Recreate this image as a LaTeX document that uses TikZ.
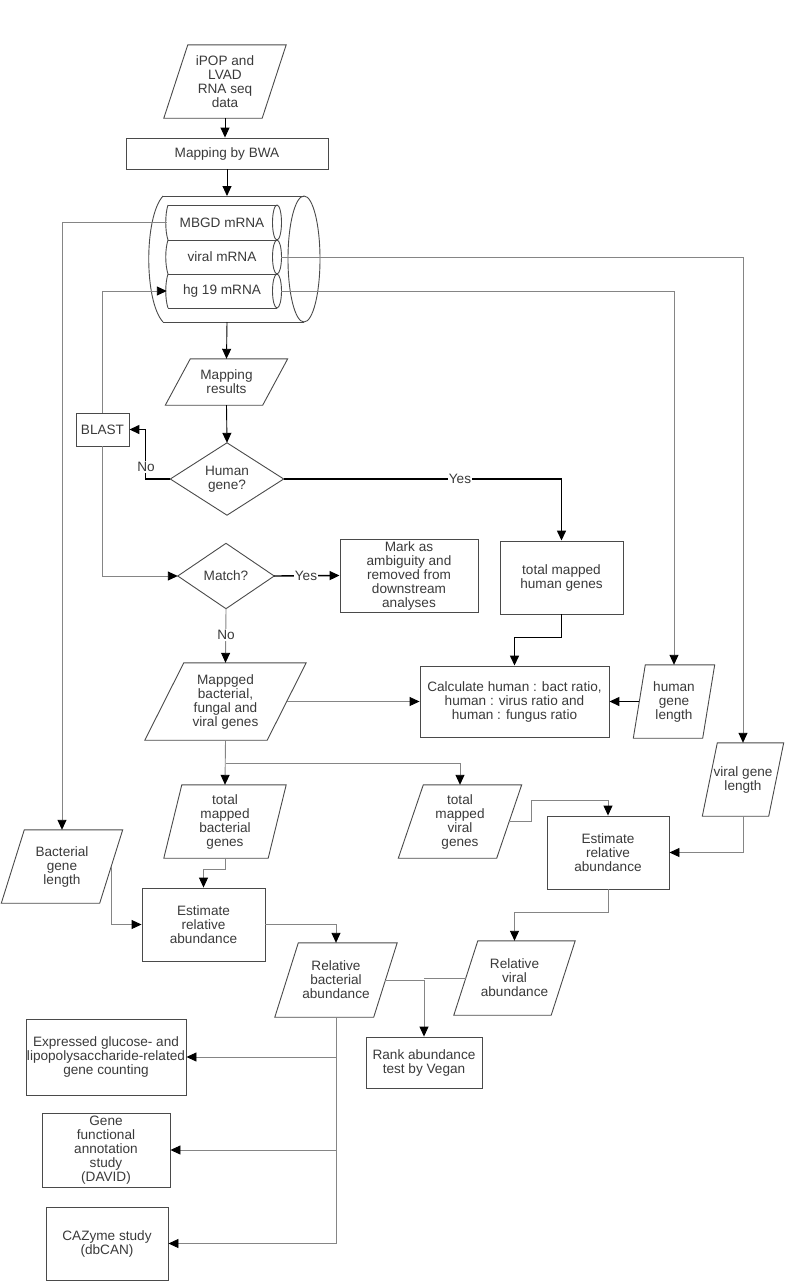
\documentclass[tikz,border=0pt]{standalone}
\usepackage{fontspec}
\setmainfont{Liberation Sans}
\usetikzlibrary{arrows.meta,calc}
\definecolor{txt}{HTML}{3A3A3A}
\definecolor{edge}{HTML}{4A4A4A}
\definecolor{thinc}{HTML}{858585}
\tikzset{
  fnt/.style={font=\fontsize{13.6}{14}\selectfont},
  shp/.style={inner sep=0pt, align=center, text=txt, fnt},
  box/.style={shp, draw=edge, line width=0.9pt},
  outl/.style={draw=edge, line width=0.9pt},
  tip/.style={-{Triangle[length=10pt,width=9pt,color=black]}},
  gline/.style={draw=thinc, line width=0.9pt, tip},
  kline/.style={draw=black, line width=0.9pt, tip},
  bline/.style={draw=black, line width=1.4pt, tip},
  lbl/.style={fill=white, inner sep=1pt, text=txt, fnt},
}
\newcommand{\pg}[7]{%
  \node[shp, minimum width=#4, minimum height=#5] (#1) at (#2,#3) {#7};
  \draw[outl] ([xshift=-#6/2]#1.south west) -- ([xshift=-#6/2]#1.south east)
     -- ([xshift=#6/2]#1.north east) -- ([xshift=#6/2]#1.north west) -- cycle;}
\newcommand{\dm}[1]{\draw[outl] (#1.north) -- (#1.east) -- (#1.south) -- (#1.west) -- cycle;}
\newcommand{\bx}[6]{% name x1 y1 x2 y2 text
  \node[box, minimum width=#4-#2, minimum height=#5-#3] (#1) at ({(#2+#4)/2},{(#3+#5)/2}) {#6};}
\begin{document}
\begin{tikzpicture}[x=1pt,y=-1pt]
\useasboundingbox (0,0) rectangle (787,1282);

% ---------- nodes ----------
\pg{ipop}{225}{81.5}{98}{73}{24}{iPOP and\\LVAD\\RNA seq\\data}
\bx{bwa}{126}{138}{328}{169}{Mapping by BWA}

% cylinder
\coordinate (cyltop) at (227,196);
\coordinate (cylbot) at (227,322);
\draw[outl] (163,196) -- (304,196);
\draw[outl] (163,322) -- (304,322);
\draw[outl] (163,196) .. controls (144,217) and (144,301) .. (163,322);
\draw[outl] (304,259) ellipse [x radius=16pt, y radius=63pt];
\foreach \t/\b in {205/240,240/274,274/308}{
  \draw[outl] (168,\t) -- (277,\t);
  \draw[outl] (168,\b) -- (277,\b);
  \draw[outl] (168,\t) .. controls (165,\t+9) and (165,\b-9) .. (168,\b);
  \draw[outl] (277,{(\t+\b)/2}) ellipse [x radius=4.5pt, y radius={(\b-\t)/2*1pt}];
}
\node[shp, minimum width=110, minimum height=34] (mbgd) at (222,222.5) {MBGD mRNA};
\node[shp, minimum width=110, minimum height=34] (viral) at (222,257) {viral mRNA};
\node[shp, minimum width=110, minimum height=34] (hg) at (222,291) {hg 19 mRNA};

\pg{mapres}{226.5}{382}{97}{46}{25}{\fontsize{13.6}{18}\selectfont Mapping\\results}
\bx{blast}{76}{413}{129}{446}{BLAST}
\node[shp, minimum width=113, minimum height=72] (human) at (227,479) {Human\\gene?};
\dm{human}
\node[shp, minimum width=96, minimum height=65] (match) at (226,576) {Match?};
\dm{match}
\bx{mark}{340}{539}{478}{612}{Mark as\\ambiguity and\\removed from\\downstream\\analyses}
\bx{tothuman}{500}{541}{623}{614}{total mapped\\human genes}
\bx{calc}{420}{666}{609}{737}{Calculate human : bact ratio,\\human : virus ratio and\\human : fungus ratio}
\pg{humanlen}{674}{701.5}{69}{73}{12}{human\\gene\\length}
\pg{mapped}{225.5}{701.5}{122}{77}{39}{\fontsize{13.6}{16.5}\selectfont Mappged\\bacterial,\\fungal and\\viral genes}
\pg{virallen}{743}{779.5}{66}{73}{15}{viral gene\\length}
\pg{totbact}{225}{821.5}{104}{73}{18}{total\\mapped\\bacterial\\genes}
\pg{totviral}{460}{821.5}{98}{73}{25}{total\\mapped\\viral\\genes}
\pg{bactlen}{62}{866.5}{98}{73}{23}{Bacterial\\gene\\length}
\bx{estb}{142}{888}{265}{961}{Estimate\\relative\\abundance}
\bx{estv}{547}{816}{669}{889}{Estimate\\relative\\abundance}
\pg{relbact}{336}{980}{98.5}{74}{23.5}{Relative\\bacterial\\abundance}
\pg{relviral}{514.5}{978}{97}{74}{24}{Relative\\viral\\abundance}
\bx{rank}{366}{1037}{482}{1088}{Rank abundance\\test by Vegan}
\bx{expr}{26}{1019}{186}{1095}{Expressed glucose- and\\lipopolysaccharide-related\\gene counting}
\bx{gene}{42}{1113}{170}{1187}{Gene\\functional\\annotation\\study\\(DAVID)}
\bx{cazy}{46}{1207}{168}{1280}{CAZyme study\\(dbCAN)}

% ---------- connectors ----------
\draw[kline] (ipop.south) -- (ipop.south |- bwa.north);
\draw[kline] (bwa.south) -- (cyltop);
\draw[kline] (cylbot) -- (mapres.north);
\draw[kline] (mapres.south) -- (human.north);

% Human gene? No / Yes
\draw[bline] (human.west) -| ($(blast.east)+(16,0)$) -- (blast.east);
\node[lbl] at (146,467) {No};
\draw[bline] (human.east) -| (tothuman.north);
\node[lbl] at (460,479) {Yes};

% BLAST loops
\draw[gline] (blast.north) |- (hg.west);
\draw[gline] (blast.south) |- (match.west);

% Match? Yes / No
\draw[bline] (match.east) -- (mark.west);
\node[lbl] at (306,576) {Yes};
\draw[gline] (match.south) -- (mapped.north);
\node[lbl] at (226,635) {No};

% database outputs
\draw[gline] (mbgd.west) -| (bactlen.north);
\draw[gline] ([xshift=4]viral.east) -| (virallen.north);
\draw[gline] ([xshift=4]hg.east) -| (humanlen.north);

% ratio calculation
\draw[bline] (tothuman.south) -- ($(tothuman.south)+(0,23)$) -| (calc.north);
\draw[bline] (humanlen.west) -- (calc.east);
\draw[gline] (mapped.east) -- (calc.west);

% split of mapped genes
\draw[gline] (mapped.south) -- (totbact.north);
\draw[gline] ($(mapped.south)+(0,23)$) -| (totviral.north);

% bacterial branch
\draw[gline] (totbact.south) -- ($(totbact.south)+(0,11)$) -| (estb.north);
\draw[gline] (bactlen.east) |- (estb.west);
\draw[gline] (estb.east) -| (relbact.north);

% viral branch
\draw[gline] (totviral.east) -- ($(totviral.east)+(22,0)$) |- ($(estv.north)+(0,-15)$) -- (estv.north);
\draw[gline] (virallen.south) |- (estv.east);
\draw[gline] (estv.south) -- ($(estv.south)+(0,23)$) -| (relviral.north);

% rank abundance
\draw[gline] (relbact.east) -| (rank.north);
\draw[draw=thinc, line width=0.9pt] (relviral.west) -- (relviral.west -| rank.north);

% downstream analyses
\draw[gline] (relbact.south) |- (expr.east);
\draw[gline] (relbact.south) |- (gene.east);
\draw[gline] (relbact.south) |- (cazy.east);
\end{tikzpicture}
\end{document}
